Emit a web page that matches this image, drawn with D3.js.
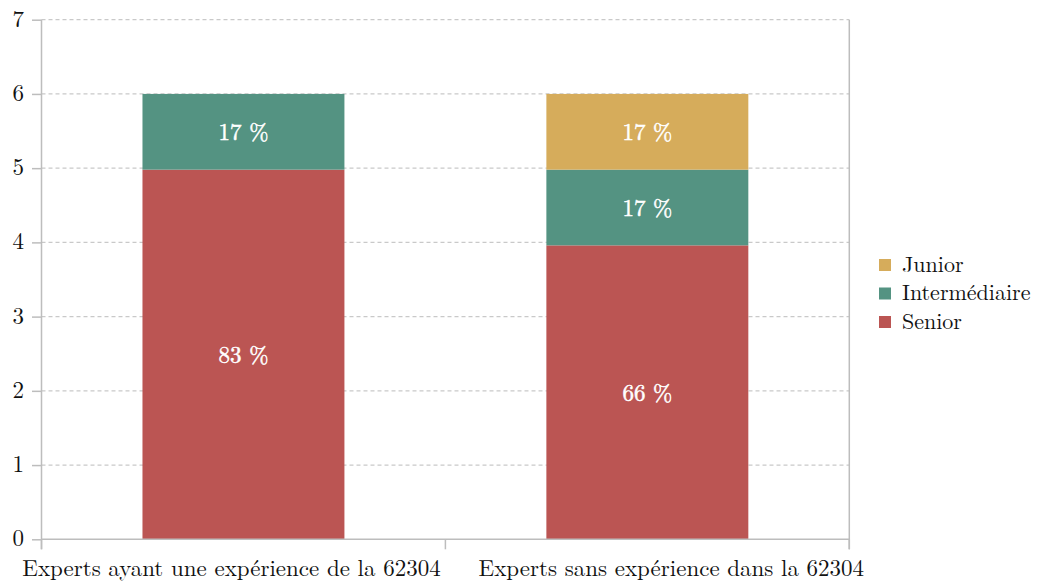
<!DOCTYPE html>
<html>
<head>
<meta charset="utf-8">
<script src="https://cdn.jsdelivr.net/npm/d3@7"></script>
<style>
  html, body { margin: 0; padding: 0; background: #fff; }
  svg text { font-family: "Latin Modern Roman", "Liberation Serif", serif; }
</style>
</head>
<body>
<svg id="chart" width="1039" height="582"></svg>
<script>
// Groups of experts, six respondents per group
const categories = ["Experts ayant une expérience de la 62304", "Experts sans expérience dans la 62304"];
const groupSize = [6, 6];
// Share of each seniority level inside a group (percent)
const seniorPct = [83, 66];
const intermediatePct = [17, 17];
const juniorPct = [0, 17];
const seriesNames = ["Senior", "Intermédiaire", "Junior"];
const seriesColors = ["#bb5553", "#549382", "#d6ac5b"];
const yTicks = [0, 1, 2, 3, 4, 5, 6, 7];

const seriesPct = [seniorPct, intermediatePct, juniorPct];
const fontSize = 23;

const svg = d3.select("#chart");
const plotLeft = 41.5, plotRight = 849.3, plotTop = 19.7, plotBottom = 539.3;

const x = d3.scaleBand().domain(categories).range([plotLeft, plotRight])
  .paddingInner(0.5).paddingOuter(0.25);
const y = d3.scaleLinear().domain([0, 7]).range([plotBottom, plotTop]);

// Stack the counts implied by each percentage
const rows = categories.map((c, i) => {
  const r = { cat: c };
  seriesNames.forEach((s, k) => { r[s] = seriesPct[k][i] * groupSize[i] / 100; r[s + "_pct"] = seriesPct[k][i]; });
  return r;
});
const stack = d3.stack().keys(seriesNames)(rows);

// Horizontal dashed grid
svg.append("g").selectAll("line").data(yTicks.filter(d => d > 0)).join("line")
  .attr("x1", plotLeft).attr("x2", plotRight)
  .attr("y1", d => y(d)).attr("y2", d => y(d))
  .attr("stroke", "#c9c9c9").attr("stroke-width", 1.2)
  .attr("stroke-dasharray", "4,3");

// Bars
const gBars = svg.append("g");
stack.forEach((layer, k) => {
  gBars.selectAll(null).data(layer.filter(d => d[1] - d[0] > 0)).join("rect")
    .attr("x", d => x(d.data.cat))
    .attr("width", x.bandwidth())
    .attr("y", d => y(d[1]))
    .attr("height", d => y(d[0]) - y(d[1]))
    .attr("fill", seriesColors[k]);
});

// Percentage labels inside segments
stack.forEach((layer, k) => {
  gBars.selectAll(null).data(layer.filter(d => d[1] - d[0] > 0)).join("text")
    .attr("x", d => x(d.data.cat) + x.bandwidth() / 2)
    .attr("y", d => y((d[0] + d[1]) / 2))
    .attr("dy", "0.36em")
    .attr("text-anchor", "middle")
    .attr("fill", "#fff")
    .attr("stroke", "#fff")
    .attr("stroke-width", 0.5)
    .attr("font-size", fontSize)
    .text(d => d.data[seriesNames[k] + "_pct"] + " %");
});

// Axis frame
const axisColor = "#bdbdbd";
svg.append("line").attr("x1", plotLeft).attr("x2", plotLeft).attr("y1", plotTop).attr("y2", plotBottom + 10)
  .attr("stroke", axisColor).attr("stroke-width", 1.5);
svg.append("line").attr("x1", plotRight).attr("x2", plotRight).attr("y1", plotTop).attr("y2", plotBottom + 10)
  .attr("stroke", axisColor).attr("stroke-width", 1.5);
svg.append("line").attr("x1", plotLeft).attr("x2", plotRight).attr("y1", plotBottom).attr("y2", plotBottom)
  .attr("stroke", axisColor).attr("stroke-width", 1.5);

// Y axis
const yAxis = d3.axisLeft(y).tickValues(yTicks).tickSize(9.5).tickPadding(8).tickFormat(d3.format("d"));
const gy = svg.append("g").attr("transform", `translate(${plotLeft},0)`).call(yAxis);
gy.attr("font-family", null);
gy.select(".domain").remove();
gy.selectAll(".tick line").attr("stroke", axisColor).attr("stroke-width", 1.5);
gy.selectAll(".tick text").attr("font-size", fontSize).attr("fill", "#111").attr("dy", "0.28em");

// Category boundary ticks on the x axis
const bounds = [plotLeft, (x(categories[0]) + x.bandwidth() + x(categories[1])) / 2, plotRight];
svg.append("g").selectAll("line").data(bounds).join("line")
  .attr("x1", d => d).attr("x2", d => d).attr("y1", plotBottom).attr("y2", plotBottom + 10)
  .attr("stroke", axisColor).attr("stroke-width", 1.5);

// Category labels
const labelShift = [-12, 24];
svg.append("g").selectAll("text").data(categories).join("text")
  .attr("x", (d, i) => x(d) + x.bandwidth() / 2 + labelShift[i])
  .attr("y", 576)
  .attr("text-anchor", "middle")
  .attr("font-size", fontSize)
  .attr("fill", "#111")
  .text(d => d);

// Legend (top to bottom: Junior, Intermédiaire, Senior)
const legendOrder = [2, 1, 0];
const lg = svg.append("g").attr("transform", "translate(879,259)");
legendOrder.forEach((k, i) => {
  const row = lg.append("g").attr("transform", `translate(0,${i * 28.5})`);
  row.append("rect").attr("width", 12).attr("height", 12).attr("fill", seriesColors[k]);
  row.append("text").attr("x", 23).attr("y", 12.5)
    .attr("font-size", 22).attr("fill", "#111").text(seriesNames[k]);
});
</script>
</body>
</html>
